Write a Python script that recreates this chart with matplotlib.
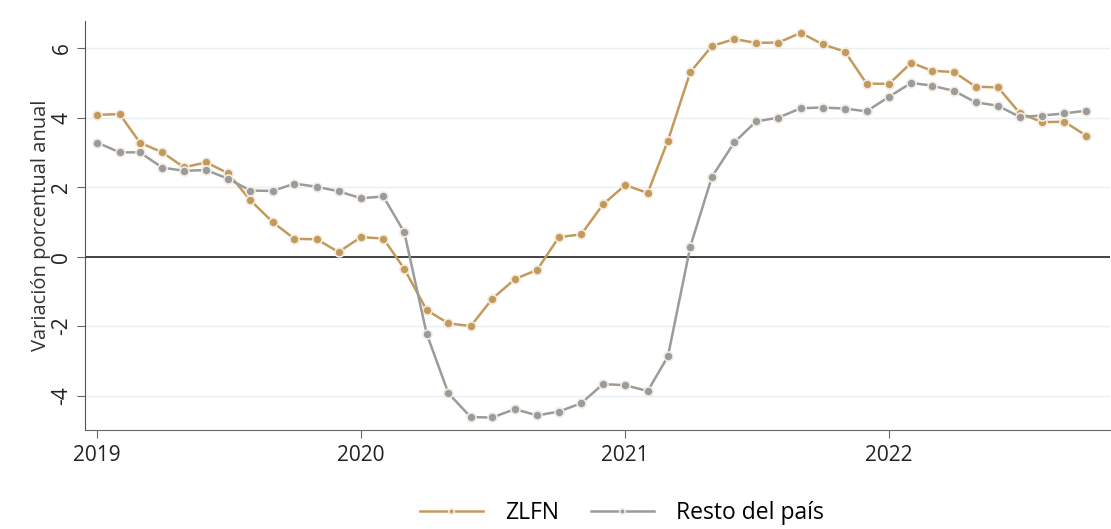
import matplotlib
matplotlib.use("Agg")
import matplotlib.pyplot as plt
import numpy as np
import pandas as pd

months = pd.date_range("2019-01-01", "2022-10-01", freq="MS")

zlfn = [4.08, 4.10, 3.28, 3.00, 2.57, 2.71, 2.40, 1.62, 0.99, 0.51, 0.50, 0.13,
        0.56, 0.52, -0.35, -1.54, -1.92, -2.00, -1.21, -0.65, -0.38, 0.56, 0.64, 1.50,
        2.06, 1.83, 3.34, 5.31, 6.06, 6.26, 6.15, 6.16, 6.44, 6.11, 5.90, 4.98,
        4.97, 5.58, 5.35, 5.31, 4.89, 4.87, 4.13, 3.87, 3.88, 3.48]
resto = [3.28, 3.00, 3.00, 2.56, 2.47, 2.49, 2.24, 1.90, 1.89, 2.10, 2.01, 1.88,
         1.68, 1.73, 0.70, -2.22, -3.93, -4.62, -4.63, -4.39, -4.57, -4.46, -4.22, -3.67,
         -3.70, -3.87, -2.87, 0.29, 2.30, 3.29, 3.89, 4.00, 4.27, 4.29, 4.26, 4.18,
         4.60, 5.00, 4.92, 4.77, 4.44, 4.34, 4.02, 4.06, 4.12, 4.20]
yticks = [-4, -2, 0, 2, 4, 6]
year_ticks = [2019, 2020, 2021, 2022]
labels = ["ZLFN", "Resto del país"]
colors = ["#c49a5c", "#9b9b9b"]

plt.rcParams['font.family'] = ['Open Sans', 'DejaVu Sans']

fig = plt.figure(figsize=(11.11, 5.29), dpi=100)
ax = fig.add_axes([85/1111, 1-430/529, 1025/1111, 409/529])

x = months
for vals, lab, c in zip([zlfn, resto], labels, colors):
    ax.plot(x, vals, color=c, lw=1.8, marker='o', ms=6.5, mfc=c,
            mec='#f3ece0', mew=1.2, label=lab, zorder=3)

ax.axhline(0, color='#222222', lw=1.2, zorder=2)
for yv in yticks:
    if yv != 0:
        ax.axhline(yv, color='#e8f0f3', lw=1.0, zorder=1)

tick_dates = [pd.Timestamp(f"{y}-01-01") for y in year_ticks]
ax.set_xticks(tick_dates)
ax.set_xticklabels([str(y) for y in year_ticks], fontsize=15)
ax.set_xlim(pd.Timestamp("2018-12-15"), pd.Timestamp("2022-11-03"))
ax.set_ylim(-4.99, 6.78)
ax.set_yticks(yticks)
ax.set_yticklabels([str(v) for v in yticks], fontsize=15, rotation=90, va='center')
ax.set_ylabel("Variación porcentual anual", fontsize=14.5, color='#333333', labelpad=0)

for s in ['top', 'right']:
    ax.spines[s].set_visible(False)
ax.spines['left'].set_color('#555555')
ax.spines['bottom'].set_color('#666666')
ax.tick_params(axis='both', direction='out', length=6, color='#666666', labelcolor='#222222')
ax.tick_params(axis='x', pad=5)
ax.tick_params(axis='y', pad=3)

fig.legend(loc='center', bbox_to_anchor=(622/1111, 1-513/529), ncol=2, frameon=False,
           fontsize=16.5, handlelength=2.75, columnspacing=1.35, handletextpad=1.0, markerscale=0.6)

fig.savefig("out.png", dpi=100)
